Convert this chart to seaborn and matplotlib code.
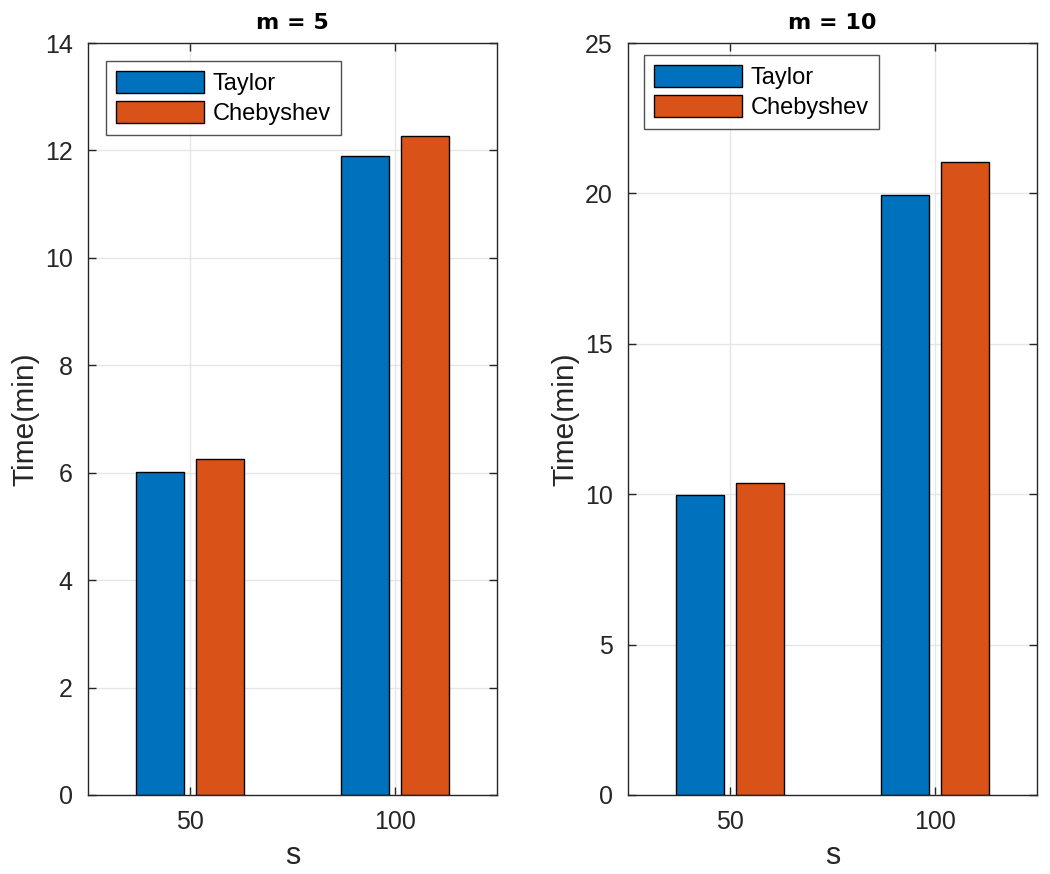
import matplotlib
matplotlib.use("Agg")
import matplotlib.pyplot as plt
import seaborn as sns
import pandas as pd

s_values = ["50", "100"]
methods = ["Taylor", "Chebyshev"]
taylor_m5 = [6.01, 11.90]
cheb_m5 = [6.25, 12.27]
taylor_m10 = [9.97, 19.95]
cheb_m10 = [10.37, 21.03]
titles = ["m = 5", "m = 10"]
ylims = [14, 25]
ysteps = [2, 5]

colors = ["#0072BD", "#D95319"]

sns.set_theme(style="white")
FONT = ['Liberation Sans', 'DejaVu Sans']
plt.rcParams['font.family'] = FONT

fig = plt.figure(figsize=(10.5, 8.74), dpi=100)
axes = [fig.add_axes([0.0838, 0.0904, 0.3895, 0.8604]),
        fig.add_axes([0.598, 0.0904, 0.3895, 0.8604])]
leg_anchor = [(0.044, 0.976), (0.039, 0.984)]

data_sets = [(taylor_m5, cheb_m5), (taylor_m10, cheb_m10)]
txt = "#262626"
for ax, (tv, cv), title, ym, st, anc in zip(axes, data_sets, titles, ylims, ysteps, leg_anchor):
    df = pd.DataFrame({
        "s": s_values * 2,
        "Method": [methods[0]] * 2 + [methods[1]] * 2,
        "Time": list(tv) + list(cv),
    })
    sns.barplot(data=df, x="s", y="Time", hue="Method", order=s_values,
                hue_order=methods, palette=colors, width=0.588, gap=0.2,
                edgecolor="black", linewidth=1.0, saturation=1, ax=ax,
                errorbar=None, zorder=3)
    ax.set_xlim(-0.5, 1.5)
    ax.set_ylim(0, ym)
    ax.set_yticks(range(0, ym + 1, st))
    ax.grid(True, color="#e6e6e6", linewidth=1.0, zorder=0)
    ax.set_axisbelow(True)
    for sp in ax.spines.values():
        sp.set_visible(True)
        sp.set_color("#262626")
        sp.set_linewidth(1.0)
        sp.set_zorder(5)
    ax.tick_params(axis="both", which="both", direction="in", length=6,
                   width=1.0, color="#262626", labelcolor=txt, labelsize=18,
                   top=True, right=True, bottom=True, left=True, pad=11)
    ax.set_title(title, fontsize=16, fontweight="bold", color="black", pad=10,
                 family=['DejaVu Sans'])
    ax.set_xlabel("s", fontsize=22, color=txt, labelpad=5)
    ax.set_ylabel("Time(min)", fontsize=21.5, color=txt, labelpad=4)
    leg = ax.legend(loc="upper left", bbox_to_anchor=anc,
                    fontsize=17, frameon=True, fancybox=False,
                    handlelength=3.75, handleheight=1.05, handletextpad=0.35,
                    labelspacing=0.24, borderpad=0.42, borderaxespad=0.0)
    leg.get_frame().set_edgecolor("#262626")
    leg.get_frame().set_linewidth(1.0)
    for t in leg.get_texts():
        t.set_color("black")

fig.savefig("out.png", dpi=100)
